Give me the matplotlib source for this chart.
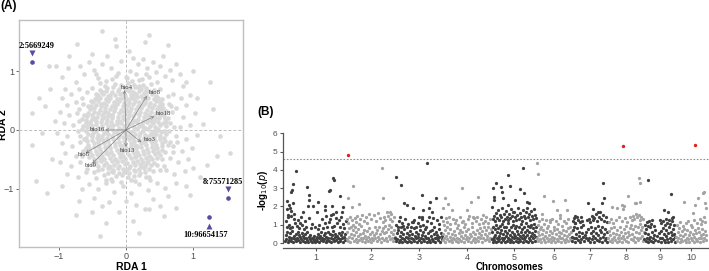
import numpy as np
import matplotlib.pyplot as plt

plt.rcParams['font.family'] = ['Liberation Sans', 'DejaVu Sans']

# ---------------- (A) RDA biplot data ----------------
# background SNP loadings (RDA1,RDA2)
rda_cloud = """
-0.16,0.79 -0.07,0.76 0.03,0.8 0.12,0.77 0.2,0.74 -0.28,0.71 -0.19,0.73 -0.11,0.7 -0.02,0.72 0.06,0.69
0.14,0.73 0.23,0.7 0.3,0.72 -0.36,0.65 -0.29,0.67 -0.21,0.64 -0.12,0.66 -0.05,0.63 0.04,0.67 0.11,0.64
0.19,0.66 0.27,0.63 0.35,0.66 -0.42,0.59 -0.34,0.61 -0.26,0.58 -0.17,0.6 -0.09,0.62 -0.01,0.58 0.07,0.6
0.15,0.61 0.22,0.58 0.3,0.6 0.38,0.62 0.44,0.58 -0.46,0.53 -0.38,0.55 -0.3,0.52 -0.23,0.55 -0.14,0.53
-0.06,0.55 0.02,0.52 0.1,0.54 0.17,0.56 0.25,0.53 0.33,0.55 0.41,0.52 0.48,0.55 -0.49,0.47 -0.41,0.49
-0.33,0.46 -0.26,0.49 -0.18,0.47 -0.1,0.5 -0.03,0.46 0.05,0.48 0.13,0.5 0.2,0.47 0.28,0.49 0.36,0.46
0.44,0.49 0.5,0.47 -0.52,0.41 -0.44,0.43 -0.37,0.4 -0.29,0.43 -0.21,0.41 -0.13,0.44 -0.05,0.4 0.03,0.42
0.1,0.44 0.18,0.41 0.26,0.43 0.34,0.4 0.41,0.43 0.49,0.41 0.53,0.44 -0.54,0.35 -0.47,0.37 -0.39,0.34
-0.31,0.37 -0.24,0.35 -0.16,0.38 -0.08,0.34 0.0,0.36 0.08,0.38 0.15,0.35 0.23,0.37 0.31,0.34 0.39,0.37
0.46,0.35 0.55,0.37 -0.56,0.29 -0.48,0.31 -0.41,0.28 -0.33,0.31 -0.26,0.29 -0.18,0.32 -0.1,0.28 -0.02,0.3
0.06,0.32 0.13,0.29 0.21,0.31 0.29,0.28 0.37,0.31 0.44,0.29 0.52,0.32 0.57,0.28 -0.58,0.23 -0.5,0.25
-0.43,0.22 -0.35,0.25 -0.27,0.23 -0.2,0.26 -0.12,0.22 -0.04,0.24 0.04,0.26 0.11,0.23 0.19,0.25 0.27,0.22
0.35,0.25 0.42,0.23 0.5,0.26 0.57,0.23 -0.59,0.17 -0.51,0.19 -0.44,0.16 -0.36,0.19 -0.28,0.17 -0.21,0.2
-0.13,0.16 -0.05,0.18 0.03,0.2 0.1,0.17 0.18,0.19 0.26,0.16 0.33,0.19 0.41,0.17 0.49,0.2 0.58,0.18
-0.6,0.11 -0.53,0.13 -0.45,0.1 -0.37,0.13 -0.3,0.11 -0.22,0.14 -0.14,0.1 -0.07,0.12 0.01,0.14 0.09,0.11
0.16,0.13 0.24,0.1 0.32,0.13 0.4,0.11 0.47,0.14 0.55,0.11 0.6,0.13 -0.58,0.05 -0.5,0.07 -0.42,0.04
-0.35,0.07 -0.27,0.05 -0.19,0.08 -0.11,0.04 -0.03,0.06 0.05,0.08 0.12,0.05 0.2,0.07 0.28,0.04 0.36,0.07
0.43,0.05 0.51,0.08 0.59,0.06 -0.6,-0.01 -0.52,0.01 -0.45,-0.02 -0.37,0.01 -0.29,-0.01 -0.21,0.02 -0.13,-0.02
-0.06,0.0 0.02,0.02 0.1,-0.01 0.17,0.01 0.25,-0.02 0.33,0.01 0.41,-0.01 0.48,0.02 0.56,-0.01 -0.57,-0.07
-0.49,-0.05 -0.41,-0.08 -0.33,-0.05 -0.26,-0.07 -0.18,-0.04 -0.1,-0.08 -0.02,-0.06 0.06,-0.04 0.14,-0.07 0.21,-0.05
0.29,-0.08 0.37,-0.05 0.45,-0.07 0.52,-0.04 0.59,-0.07 -0.59,-0.13 -0.51,-0.11 -0.43,-0.14 -0.36,-0.11 -0.28,-0.13
-0.2,-0.1 -0.12,-0.14 -0.04,-0.12 0.03,-0.1 0.11,-0.13 0.19,-0.11 0.27,-0.14 0.34,-0.11 0.42,-0.13 0.5,-0.1
0.57,-0.13 -0.58,-0.19 -0.5,-0.17 -0.42,-0.2 -0.34,-0.17 -0.27,-0.19 -0.19,-0.16 -0.11,-0.2 -0.03,-0.18 0.05,-0.16
0.12,-0.19 0.2,-0.17 0.28,-0.2 0.36,-0.17 0.43,-0.19 0.51,-0.16 0.58,-0.19 -0.56,-0.25 -0.48,-0.23 -0.4,-0.26
-0.33,-0.23 -0.25,-0.25 -0.17,-0.22 -0.09,-0.26 -0.01,-0.24 0.07,-0.22 0.14,-0.25 0.22,-0.23 0.3,-0.26 0.38,-0.23
0.45,-0.25 0.53,-0.22 -0.55,-0.31 -0.47,-0.29 -0.39,-0.32 -0.31,-0.29 -0.24,-0.31 -0.16,-0.28 -0.08,-0.32 0.0,-0.3
0.08,-0.28 0.15,-0.31 0.23,-0.29 0.31,-0.32 0.39,-0.29 0.46,-0.31 0.54,-0.28 -0.53,-0.37 -0.45,-0.35 -0.37,-0.38
-0.3,-0.35 -0.22,-0.37 -0.14,-0.34 -0.06,-0.38 0.02,-0.36 0.09,-0.34 0.17,-0.37 0.25,-0.35 0.33,-0.38 0.4,-0.35
0.48,-0.37 0.53,-0.34 -0.5,-0.43 -0.43,-0.41 -0.35,-0.44 -0.27,-0.41 -0.19,-0.43 -0.11,-0.4 -0.04,-0.44 0.04,-0.42
0.12,-0.4 0.2,-0.43 0.27,-0.41 0.35,-0.44 0.43,-0.41 0.5,-0.43 -0.48,-0.49 -0.4,-0.47 -0.32,-0.5 -0.24,-0.47
-0.17,-0.49 -0.09,-0.46 -0.01,-0.5 0.07,-0.48 0.14,-0.46 0.22,-0.49 0.3,-0.47 0.38,-0.5 0.46,-0.47 -0.45,-0.55
-0.37,-0.53 -0.29,-0.56 -0.21,-0.53 -0.14,-0.55 -0.06,-0.52 0.02,-0.56 0.1,-0.54 0.17,-0.52 0.25,-0.55 0.33,-0.53
0.41,-0.56 -0.41,-0.61 -0.33,-0.59 -0.25,-0.62 -0.18,-0.59 -0.1,-0.61 -0.02,-0.58 0.06,-0.62 0.13,-0.6 0.21,-0.58
0.29,-0.61 0.37,-0.59 -0.35,-0.67 -0.27,-0.65 -0.19,-0.68 -0.12,-0.65 -0.04,-0.67 0.04,-0.64 0.12,-0.68 0.19,-0.66
0.27,-0.64 0.34,-0.67 -0.27,-0.73 -0.19,-0.71 -0.11,-0.74 -0.03,-0.71 0.05,-0.73 0.13,-0.7 0.21,-0.74 0.28,-0.72
-0.15,-0.79 -0.06,-0.77 0.03,-0.8 0.12,-0.78 0.19,-0.76
-0.23,0.6 0.08,0.55 -0.37,0.45 0.22,0.4 -0.06,0.33 0.33,0.26 -0.46,0.2 0.14,0.15 -0.25,0.07 0.46,0.0
-0.15,-0.03 0.07,-0.1 -0.39,-0.15 0.25,-0.21 -0.06,-0.27 0.42,-0.33 -0.3,-0.4 0.15,-0.45 -0.13,-0.52 0.31,-0.57
-0.24,-0.63 0.0,-0.68 0.19,0.71 -0.11,0.52 0.29,0.46 -0.54,0.1 0.37,0.15 -0.33,0.22 0.04,0.3 -0.17,0.42
0.51,0.38 -0.44,0.55 0.12,0.62 -0.2,0.25 0.26,0.05 -0.42,-0.27 0.36,-0.46 -0.08,-0.42 0.22,-0.62 -0.35,-0.5
0.02,0.7 -0.29,0.31 0.45,0.2 -0.5,-0.1 0.17,-0.28 -0.2,-0.7 0.4,-0.08 -0.1,0.16 0.3,0.66 -0.38,0.68
-0.45,0.62 -0.31,0.74 0.09,0.83 0.26,0.77 0.41,0.68 -0.52,0.5 0.54,0.52 -0.57,0.4 0.6,0.33 -0.63,0.26
0.63,0.2 -0.64,0.06 0.64,-0.02 -0.62,-0.16 0.62,-0.25 -0.6,-0.3 0.58,-0.38 -0.55,-0.46 0.53,-0.5 -0.5,-0.58
0.46,-0.6 -0.42,-0.68 0.4,-0.7 -0.33,-0.77 0.3,-0.8 -0.22,-0.83 0.08,-0.85
-0.38,0.8 -0.2,0.86 0.0,0.9 0.19,0.85 0.37,0.78 -0.5,0.72 0.5,0.7 -0.64,0.45 -0.7,0.15 -0.68,-0.1
-0.66,-0.45 0.67,0.4 0.72,0.05 0.7,-0.38 0.63,0.58 -0.48,-0.72 -0.3,-0.85 -0.08,-0.88 0.14,-0.86 0.35,-0.8
0.5,-0.68 -0.58,0.64 0.57,-0.62 -0.73,0.28 0.76,-0.2 -0.58,-0.66 0.46,0.82 -0.12,0.97 0.3,0.95 -0.45,0.95
-0.62,0.95 -0.48,1.02 -0.35,1.12 -0.22,1.05 -0.08,1.18 0.06,1.0 0.18,1.12 0.31,1.05 0.44,0.98 0.58,0.92
0.69,0.85 -0.75,0.82 -0.55,1.15 -0.28,1.25 0.1,1.22 0.26,1.2 0.4,1.15 0.5,1.08 -0.42,0.88 -0.15,0.92
0.02,0.88 0.15,0.95 0.35,0.9 0.8,0.95 -0.68,1.08 0.66,1.02 -0.9,0.7 0.85,0.75 -0.3,0.84 0.24,0.86
-0.95,0.55 -0.82,0.62 -0.7,0.7 -0.88,0.42 -0.75,0.48 -0.98,0.3 -0.85,0.25 -0.7,0.35 -0.92,0.12 -0.78,0.08
-0.65,0.18 -1.02,-0.05 -0.88,-0.1 -0.72,-0.02 -0.95,-0.22 -0.8,-0.28 -0.68,-0.2 -0.9,-0.4 -0.75,-0.45 -0.98,-0.55
-0.82,-0.62 -0.68,-0.55 -0.88,-0.75 -0.72,-0.8 -0.6,-0.72 -0.66,0.55 -0.64,-0.36 -0.66,0.02
0.95,0.6 0.82,0.55 0.7,0.62 0.9,0.42 0.75,0.38 1.02,0.28 0.85,0.22 0.68,0.3 0.95,0.08 0.8,0.05
0.66,0.12 1.05,-0.08 0.9,-0.15 0.74,-0.1 0.98,-0.3 0.84,-0.35 0.7,-0.28 0.92,-0.5 0.78,-0.55 0.65,-0.48
0.88,-0.7 0.72,-0.75 1.0,-0.65 0.6,-0.68 0.64,0.45 0.66,-0.2
-0.55,-0.92 -0.42,-1.0 -0.3,-0.9 -0.18,-1.05 -0.05,-0.95 0.08,-1.08 0.2,-0.92 0.33,-1.02 0.46,-0.9 0.58,-0.98
-0.48,-1.15 -0.25,-1.22 0.0,-1.2 0.15,-1.28 0.4,-1.18 0.62,-1.12 -0.65,-1.0 0.75,-0.9 -0.35,-1.3 0.28,-1.35
-0.1,-1.4 0.5,-1.3 -0.2,-0.86 0.36,-0.85 -0.44,-0.82
-0.36,1.69 -0.73,1.47 0.29,1.49 -0.16,1.55 -1.15,1.08 -1.04,1.09 -0.86,1.05 1.25,0.82 0.9,0.82 -1.13,0.69
-1.4,0.28 -1.4,-0.26 -1.33,-0.86 -1.18,-1.07 -0.3,-1.59 -0.39,-1.81 0.56,-1.47 0.75,-1.33 1.55,-0.4 1.35,-0.45
0.05,1.35 -0.5,1.3 0.55,1.25 0.75,1.12 -0.95,0.9 1.05,0.55 1.3,0.35 1.15,0.1 1.4,-0.1 -1.2,0.4
-1.05,0.15 -1.25,-0.05 -1.1,-0.5 -0.95,-0.95 -0.7,-1.2 -0.5,-1.4 0.1,-1.55 0.35,-1.35 0.95,-1.1 1.1,-0.8
1.2,-0.6 0.9,-0.95 -0.85,1.25 0.35,1.62 -0.15,1.42 0.62,1.45 1.0,1.0 -1.3,0.55 -0.75,-1.45 0.2,-1.75
"""

snp_names = ['2:5669249', '8:75571285', '10:96654157']
snp_rda1 = [-1.39, 1.51, 1.24]
snp_rda2 = [1.16, -1.15, -1.485]
snp_above = [True, True, False]
snp_label_dx = [0.06, -0.07, -0.05]

bio_names = ['bio4', 'bio8', 'bio18', 'bio16', 'bio3', 'bio13', 'bio6', 'bio9']
bio_rda1 = [-0.02, 0.31, 0.42, -0.31, 0.23, 0.0, -0.6, -0.5]
bio_rda2 = [0.68, 0.58, 0.23, 0.0, -0.21, -0.29, -0.39, -0.57]

# ---------------- (B) Manhattan data ----------------
chr_names = ['1', '2', '3', '4', '5', '6', '7', '8', '9', '10']
chr_len = [307.0, 244.4, 235.7, 246.9, 223.9, 174.0, 182.4, 181.1, 159.8, 150.9]  # Mb
# "position(Mb):-log10(p)" per chromosome
chr_snps = [
    # chr1
    "1:.1 4:.45 7:.2 11:.6 14:.05 18:.35 21:.15 25:.55 28:.3 32:.1 35:.65 39:.25 42:.05 46:.4 49:.2 53:.5 "
    "56:.1 60:.3 63:.6 67:.15 70:.45 74:.05 77:.35 81:.2 84:.55 88:.1 91:.4 95:.25 98:.05 102:.5 105:.3 "
    "109:.15 112:.6 116:.05 119:.35 123:.2 126:.45 130:.1 133:.3 137:.05 140:.25 144:.15 147:.4 151:.05 "
    "154:.2 158:.35 161:.1 165:.5 168:.25 172:.05 175:.4 179:.15 182:.6 186:.3 189:.1 193:.45 196:.2 "
    "200:.55 203:.05 207:.35 210:.15 214:.6 217:.25 221:.1 224:.5 228:.3 231:.05 235:.45 238:.2 242:.65 "
    "245:.1 249:.35 252:.5 256:.15 259:.4 263:.05 266:.3 270:.55 273:.2 277:.1 280:.45 284:.25 287:.6 "
    "291:.05 294:.35 298:.15 301:.5 305:.2 "
    "3:1.2 9:.9 13:1.4 19:1.0 23:.8 30:1.5 37:.85 44:1.3 51:1.1 58:.95 65:1.25 72:.8 79:1.45 86:1.0 "
    "93:.75 100:1.2 107:.9 118:1.35 128:.8 135:1.05 149:.9 163:.75 171:1.0 184:1.3 191:.8 198:1.1 "
    "205:1.5 212:.9 219:1.15 226:1.3 233:.85 240:1.6 247:.95 254:1.35 261:1.1 268:1.25 275:.9 282:1.4 "
    "289:1.05 296:.8 303:1.2 "
    "9:2.3 12:1.85 17:1.55 22:2.1 25:1.9 28:2.8 30:1.75 34:2.9 39:2.2 42:3.2 47:1.6 55:3.95 75:1.1 "
    "92:1.7 112:3.08 117:2.05 118:2.35 120:2.62 139:2.0 159:1.7 167:2.26 200:1.8 202:2.0 220:2.86 "
    "225:2.9 230:1.55 235:2.0 239:3.53 245:3.42 255:1.7 275:2.57 285:1.7 289:1.98",
    # chr2
    "1:.2 4:.6 8:.1 11:.8 15:.35 18:.05 22:.5 25:.9 29:.25 32:.7 36:.1 39:.45 43:.85 46:.2 50:.6 53:.05 "
    "57:.4 60:.75 64:.15 67:.5 71:.3 74:.95 78:.1 81:.55 85:.25 88:.7 92:.05 95:.4 99:.2 102:.65 106:.1 "
    "109:.35 113:.8 116:.2 120:.5 123:.05 127:.3 130:.6 134:.15 137:.45 141:.85 144:.25 148:.55 151:.1 "
    "155:.7 158:.35 162:.9 165:.2 169:.5 172:.05 176:.65 179:.3 183:.8 186:.15 190:.55 193:.95 197:.25 "
    "200:.6 204:.1 207:.75 211:.4 214:1.0 218:.2 221:.6 225:.85 228:.3 232:.5 235:.1 239:.7 242:.35 "
    "3:1.3 10:1.1 20:1.45 27:1.25 34:1.0 41:1.35 48:1.15 55:1.5 62:1.05 69:1.3 77:1.55 86:1.2 97:1.4 "
    "105:1.1 111:1.6 125:1.3 139:1.55 150:1.2 160:1.65 170:1.35 181:1.15 188:1.45 195:1.25 202:1.7 "
    "209:1.5 216:1.3 222:1.6 230:1.2 237:1.45 "
    "7:2.44 26:1.95 31:3.12 61:2.13 176:4.12 185:2.44 218:1.7",
    # chr3
    "1:.3 4:.1 8:.55 11:.2 15:.7 18:.05 22:.4 25:.15 29:.6 32:.3 36:.05 39:.5 43:.2 46:.75 50:.1 53:.35 "
    "57:.55 60:.05 64:.25 67:.45 71:.1 74:.65 78:.3 81:.05 85:.5 88:.2 92:.8 95:.1 99:.4 102:.25 106:.6 "
    "109:.05 113:.35 116:.5 120:.15 123:.7 127:.3 130:.05 134:.45 137:.2 141:.6 144:.1 148:.4 151:.75 "
    "155:.25 158:.05 162:.55 165:.3 169:.15 172:.65 176:.05 179:.4 183:.2 186:.7 190:.1 193:.5 197:.3 "
    "200:.05 204:.6 207:.25 211:.45 214:.15 218:.75 221:.35 225:.05 228:.55 232:.2 235:.4 "
    "6:1.0 13:.9 20:1.2 27:.85 34:1.1 41:.95 48:1.3 58:.9 66:1.05 77:.85 87:1.16 94:1.25 104:.9 112:1.1 "
    "119:1.45 126:.95 132:1.3 140:1.0 153:.9 161:1.2 168:1.45 178:1.1 188:1.35 195:.9 209:1.25 220:1.05 "
    "229:1.4 "
    "5:3.59 23:1.4 28:3.17 43:2.17 57:2.08 82:1.16 90:1.92 132:2.62 133:1.45 137:1.8 157:4.39 170:1.9 "
    "173:2.26 182:1.7 203:2.48",
    # chr4
    "1:.15 4:.5 8:.25 11:.7 15:.05 18:.4 22:.85 25:.2 29:.55 32:.1 36:.35 39:.75 43:.15 46:.5 50:.05 "
    "53:.3 57:.65 60:.2 64:.45 67:.1 71:.8 74:.3 78:.05 81:.55 85:.2 88:.7 92:.4 95:.1 99:.6 102:.25 "
    "106:.9 109:.05 113:.45 116:.2 120:.65 123:.35 127:.1 130:.75 134:.25 137:.5 141:.05 144:.4 148:.85 "
    "151:.15 155:.6 158:.3 162:.05 165:.5 169:.2 172:.7 176:.35 179:.1 183:.55 186:.8 190:.25 193:.45 "
    "197:.05 200:.65 204:.3 207:.9 211:.15 214:.5 218:.7 221:.2 225:.4 228:.85 232:.1 235:.55 239:.3 "
    "242:.75 246:.2 "
    "3:1.2 10:1.0 17:1.35 24:1.15 33:1.45 40:1.05 52:1.3 62:1.1 70:1.25 80:1.0 90:1.4 101:1.2 112:1.05 "
    "126:1.3 135:1.5 147:1.1 156:1.35 166:1.2 175:1.45 185:1.05 194:1.3 203:1.55 212:1.2 220:1.4 230:1.1 "
    "240:1.3 "
    "1:1.9 13:2.44 30:2.13 46:1.8 98:2.99 96:1.16 121:1.8 145:2.26 154:1.44 180:2.53 205:1.08",
    # chr5
    "1:.2 3:.6 6:.05 8:.9 11:.35 13:.15 16:.75 18:.45 21:.05 23:1.0 26:.3 28:.6 31:.1 33:.8 36:.4 38:.2 "
    "41:.95 43:.55 46:.05 48:.7 51:.3 53:1.05 56:.15 58:.5 61:.85 63:.25 66:.05 68:.65 71:.4 73:.9 76:.1 "
    "78:.55 81:.3 83:1.1 86:.2 88:.7 91:.05 93:.45 96:.85 98:.15 101:.6 103:.35 106:1.0 108:.05 111:.5 "
    "113:.25 116:.8 118:.4 121:.1 123:.95 126:.3 128:.65 131:.05 133:.5 136:.2 138:.85 141:.4 143:.1 "
    "146:1.05 148:.6 151:.25 153:.75 156:.05 158:.45 161:.9 163:.2 166:.6 168:.35 171:1.1 173:.1 176:.7 "
    "178:.45 181:.05 183:.95 186:.3 188:.6 191:.15 193:.85 196:.4 198:1.0 201:.05 203:.55 206:.25 208:.8 "
    "211:.45 213:1.05 216:.1 218:.65 221:.35 223:.9 "
    "4:1.3 9:1.5 14:1.2 19:1.65 24:1.35 29:1.8 34:1.25 39:1.55 44:1.4 49:1.9 54:1.2 59:1.6 64:1.3 "
    "69:1.75 74:1.45 79:1.25 84:1.6 89:1.35 94:1.85 99:1.5 104:1.2 109:1.7 114:1.4 119:1.25 124:1.55 "
    "129:1.9 134:1.3 139:1.65 144:1.45 149:1.2 154:1.8 159:1.5 164:1.35 169:1.7 174:1.9 179:1.4 184:1.6 "
    "189:1.25 194:1.75 199:1.5 204:1.3 209:1.85 214:1.55 219:1.35 "
    "1:1.95 7:2.99 9:2.53 10:2.35 21:3.26 44:3.08 49:2.8 54:2.48 83:3.72 83:2.08 91:3.11 107:1.71 "
    "116:2.35 141:2.93 154:4.08 163:2.75 174:2.26 186:2.17",
    # chr6
    "2:.25 5:.6 9:.1 12:.45 16:.75 19:.2 23:.05 26:.5 30:.3 33:.7 37:.15 40:.4 44:.05 47:.6 51:.25 54:.8 "
    "58:.1 61:.45 65:.2 68:.65 72:.05 75:.35 79:.55 82:.15 86:.7 89:.3 93:.05 96:.5 100:.2 103:.75 107:.1 "
    "110:.4 114:.6 117:.25 121:.05 124:.55 128:.3 131:.7 135:.15 138:.45 142:.05 145:.65 149:.2 152:.4 "
    "156:.8 159:.1 163:.5 166:.25 170:.6 173:.15 "
    "5:1.0 12:1.2 20:.9 28:1.3 35:1.05 45:1.25 55:.95 65:1.15 76:1.3 86:.9 96:1.2 105:1.05 115:1.35 "
    "125:.95 136:1.2 146:1.1 156:1.3 166:.9 "
    "4:4.35 9:3.75 26:1.57 37:2.57 67:1.26 84:2.3 100:1.8 117:1.53 142:2.35 150:1.8",
    # chr7
    "1:.35 4:.1 8:.7 11:.25 15:.9 18:.05 22:.5 25:.3 29:.8 32:.15 36:.6 39:.4 43:.05 46:.85 50:.2 53:.55 "
    "57:.35 60:1.0 64:.1 67:.45 71:.25 75:.6 82:.15 85:.75 89:.3 92:.05 96:.55 99:.9 103:.2 106:.65 110:.4 "
    "113:.05 117:.8 120:.3 124:.55 127:.15 131:.95 134:.45 138:.1 141:.7 145:.25 148:.6 152:.05 155:.85 "
    "159:.35 162:.5 166:.15 169:.75 173:.3 176:.05 180:.6 "
    "6:1.2 13:1.35 20:1.1 27:1.4 34:1.25 41:1.15 48:1.45 55:1.2 88:1.3 94:1.15 101:1.5 108:1.25 115:1.35 "
    "122:1.6 129:1.2 136:1.45 146:1.3 157:1.55 165:1.2 171:1.4 178:1.15 "
    "18:1.5 19:1.08 77:1.26 81:2.17 106:1.84 110:1.4 134:1.71 143:1.71 151:2.2 160:3.3 163:2.44",
    # chr8
    "2:.3 5:.65 9:.1 12:.45 16:.8 19:.2 23:.05 26:.55 30:.35 33:.9 37:.15 40:.5 44:.05 47:.7 51:.25 "
    "54:.45 58:.1 61:.85 65:.3 68:.6 72:.05 75:.4 79:.75 82:.2 86:.55 89:.1 93:.95 96:.35 100:.6 103:.05 "
    "107:.45 110:.8 114:.2 117:1.0 121:.5 124:.15 128:.75 131:.35 135:.95 138:.05 142:.6 145:.3 149:.85 "
    "152:.15 156:.55 159:1.05 163:.25 166:.7 170:.4 173:.9 177:.1 180:.6 "
    "7:1.15 14:1.3 28:1.1 42:1.25 56:1.4 70:1.2 84:1.35 98:1.15 112:1.45 119:1.25 126:1.5 133:1.3 "
    "140:1.6 147:1.4 154:1.55 161:1.25 168:1.45 175:1.3 "
    "22:1.95 44:1.9 69:2.08 77:1.84 80:2.02 102:2.57 136:2.17 139:2.2 157:3.53 160:3.3 162:2.26",
    # chr9
    "1:.2 4:.55 8:.1 11:.75 15:.3 18:.05 22:.5 25:.2 29:.85 32:.35 36:.1 39:.6 43:.25 46:.05 50:.45 "
    "53:.7 57:.15 63:.4 70:.1 77:.55 80:.25 84:.05 87:.65 91:.3 94:.8 98:.15 101:.5 105:.05 108:.4 "
    "112:.7 115:.2 119:.55 122:.05 126:.85 129:.3 133:.6 136:.1 140:.45 143:.75 147:.2 150:.5 154:.05 "
    "157:.35 "
    "5:1.0 13:1.15 20:.95 27:1.2 34:1.05 41:1.25 48:.95 86:1.1 96:1.2 103:1.0 110:1.3 117:1.1 124:1.25 "
    "131:1.05 139:1.2 152:1.0 "
    "18:3.44 80:1.26 100:1.8 121:1.71 134:2.66 138:1.35 146:1.44",
    # chr10
    "1:.35 4:.1 8:.6 11:.25 15:.8 18:.05 22:.45 25:.2 29:.65 32:.1 36:.4 39:.75 43:.15 46:.5 50:.05 "
    "53:.3 57:.7 60:.2 64:.45 67:.05 71:.6 74:.3 78:.85 81:.15 85:.5 88:.05 92:.35 95:.7 99:.2 102:.55 "
    "106:.1 109:.8 113:.3 116:.6 120:.05 123:.45 127:.25 130:.75 134:.1 137:.5 141:.3 144:.65 148:.15 "
    "150:.45 "
    "6:1.0 20:1.15 34:.95 48:1.1 62:1.2 76:1.0 90:1.25 104:1.1 118:1.3 125:1.05 132:1.2 139:1.4 146:1.15 "
    "40:2.26 86:1.62 95:2.08 111:2.48 136:2.75 141:2.77 145:2.17 150:1.9",
]
sig_chr = [2, 8, 10]
sig_pos = [5.669249, 75.571285, 96.654157]
sig_logp = [4.79, 5.30, 5.34]
threshold = 4.6

# ---------------- figure ----------------
fig = plt.figure(figsize=(7.09, 2.71), dpi=100)

# ===== (A) =====
ax1 = fig.add_axes([0.0268, 0.0897, 0.3164, 0.8365])
pts = np.array([p.split(',') for p in rda_cloud.split()], dtype=float)
ax1.axhline(0, color='#bdbdbd', lw=0.7, ls=(0, (3, 2)), zorder=0)
ax1.axvline(0, color='#bdbdbd', lw=0.7, ls=(0, (3, 2)), zorder=0)
ax1.scatter(pts[:, 0], pts[:, 1], s=11, c='#d9d9d9', linewidths=0, zorder=1)

for name, bx, by in zip(bio_names, bio_rda1, bio_rda2):
    ax1.annotate('', xy=(bx, by), xytext=(0, 0),
                 arrowprops=dict(arrowstyle='->', color='#7f7f7f', lw=0.5,
                                 shrinkA=0, shrinkB=0, mutation_scale=5), zorder=3)
    if name == 'bio16':
        ax1.text(bx, by, name, ha='right', va='center', fontsize=4.8,
                 family='Liberation Serif', color='#333333', zorder=4)
    elif name in ('bio6', 'bio9'):
        ax1.text(bx - 0.02, by - 0.03, name, ha='center', va='center', fontsize=4.8,
                 family='Liberation Serif', color='#333333', zorder=4)
    elif name == 'bio13':
        ax1.text(bx + 0.02, by - 0.06, name, ha='center', va='center', fontsize=4.8,
                 family='Liberation Serif', color='#333333', zorder=4)
    else:
        ax1.text(bx + 0.03, by + 0.05, name, ha='left' if bx > 0.1 else 'center', va='center',
                 fontsize=4.8, family='Liberation Serif', color='#333333', zorder=4)

purple = '#5b4a9e'
for name, sx, sy, up, dx in zip(snp_names, snp_rda1, snp_rda2, snp_above, snp_label_dx):
    ax1.plot(sx, sy, 'o', ms=3.3, color=purple, mec='none', zorder=5)
    if up:
        ax1.plot(sx, sy + 0.15, 'v', ms=5, color=purple, mec='none', zorder=5)
        ax1.text(sx + dx, sy + 0.27, name, ha='center', va='center', fontsize=6,
                 fontweight='bold', family='Liberation Serif', zorder=6)
    else:
        ax1.plot(sx, sy - 0.155, '^', ms=5, color=purple, mec='none', zorder=5)
        ax1.text(sx + dx, sy - 0.305, name, ha='center', va='center', fontsize=6,
                 fontweight='bold', family='Liberation Serif', zorder=6)

ax1.set_xlim(-1.59, 1.745)
ax1.set_ylim(-1.985, 1.87)
ax1.set_xticks([-1, 0, 1])
ax1.set_yticks([-1, 0, 1])
ax1.tick_params(length=2, width=0.6, color='#555555', labelsize=6.5, labelcolor='#4d4d4d', pad=1.5)
for sp in ax1.spines.values():
    sp.set_color('#bfbfbf')
    sp.set_linewidth(1.0)
ax1.set_xlabel('RDA 1', fontsize=7.5, fontweight='bold', labelpad=1)
ax1.set_ylabel('RDA 2', fontsize=7.5, fontweight='bold')
ax1.yaxis.set_label_coords(-0.047, 0.54)

fig.text(0.0, 1 - 6 / 271, '(A)', fontsize=8.5, fontweight='bold', va='center', ha='left')

# ===== (B) =====
ax2 = fig.add_axes([283 / 709, 23 / 271, 426 / 709, 115.7 / 271])
offsets = np.concatenate([[0], np.cumsum(chr_len)[:-1]])
centers = offsets + np.array(chr_len) / 2
for i, s in enumerate(chr_snps):
    arr = np.array([t.split(':') for t in s.split()], dtype=float)
    col = '#404040' if i % 2 == 0 else '#a3a3a3'
    ax2.scatter(offsets[i] + arr[:, 0], arr[:, 1], s=5.5, c=col, linewidths=0, zorder=2)

sig_x = [offsets[c - 1] + p for c, p in zip(sig_chr, sig_pos)]
ax2.scatter(sig_x, sig_logp, s=6, c='#e0201b', linewidths=0, zorder=3)
ax2.axhline(threshold, color='#6f9f95', lw=0.8, ls=(0, (1.5, 1.5)), zorder=1)

ax2.set_xlim(-10, 2120)
ax2.set_ylim(-0.27, 6.05)
ax2.set_yticks(range(0, 7))
ax2.set_xticks(centers)
ax2.set_xticklabels(chr_names)
ax2.spines['top'].set_visible(False)
ax2.spines['right'].set_visible(False)
ax2.spines['left'].set_bounds(0, 6)
for sp in ('left', 'bottom'):
    ax2.spines[sp].set_color('#555555')
    ax2.spines[sp].set_linewidth(0.9)
ax2.tick_params(length=2.5, width=0.8, color='#555555', labelsize=6, labelcolor='#555555', pad=1.5)
ax2.tick_params(axis='x', labelsize=6.5, pad=1)
ax2.set_ylabel(r'-log$_{10}$($p$)', fontsize=7, fontweight='bold', labelpad=2)

fig.text(510 / 709, 1 - 266.5 / 271, 'Chromosomes', fontsize=7, fontweight='bold',
         ha='center', va='center')
fig.text(257 / 709, 1 - 111.7 / 271, '(B)', fontsize=8.5, fontweight='bold', va='center', ha='left')

fig.savefig('out.png', dpi=100)
